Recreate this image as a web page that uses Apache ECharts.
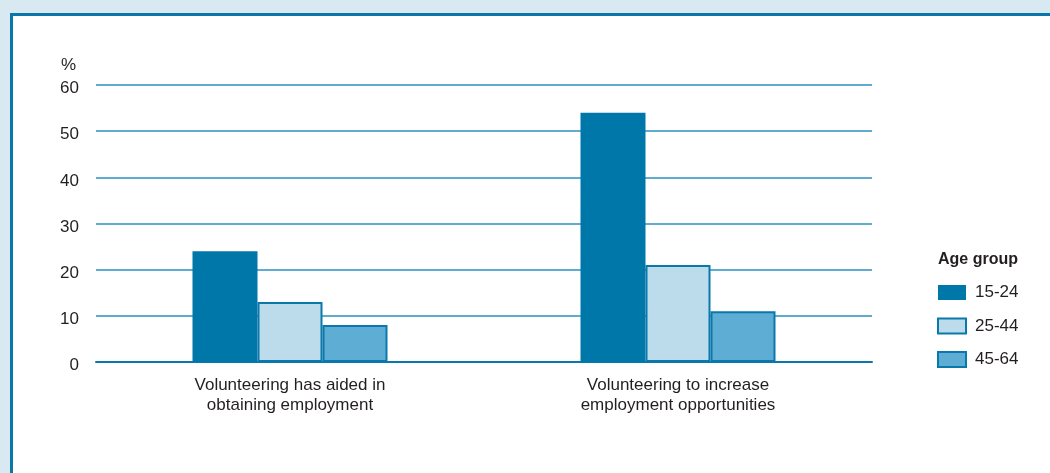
<!DOCTYPE html>
<html>
<head>
<meta charset="utf-8">
<script src="https://cdn.jsdelivr.net/npm/echarts@6/dist/echarts.min.js"></script>
<style>
html,body{margin:0;padding:0;background:#d9e9f1;}
#chart{width:1050px;height:473px;}
</style>
</head>
<body>
<div id="chart"></div>
<script>
const categories = ["Volunteering has aided in\nobtaining employment", "Volunteering to increase\nemployment opportunities"];
const seriesNames = ["15-24", "25-44", "45-64"];
const values1524 = [24, 54];
const values2544 = [13, 21];
const values4564 = [8, 11];
const yTicks = [0, 10, 20, 30, 40, 50, 60];

const FONT = "'Liberation Sans Narrow', 'Arial Narrow', 'Liberation Sans', sans-serif";
const TXT = '#231f20';
const colors = ['#0077a9', '#bcdbeb', '#5eadd4'];
const edge = '#0a78ab';

const chart = echarts.init(document.getElementById('chart'), null, {renderer: 'canvas'});
const allVals = [values1524, values2544, values4564];
chart.setOption({
  backgroundColor: '#d9e9f1',
  animation: false,
  graphic: [
    {type: 'rect', z: -10, silent: true,
     shape: {x: 11.5, y: 14.5, width: 1100, height: 500},
     style: {fill: '#ffffff', stroke: '#0a77aa', lineWidth: 3}},
    {type: 'text', left: 61, top: 57,
     style: {text: '%', font: '17px ' + FONT, fill: TXT}}
  ],
  title: {
    text: 'Age group', left: 938, top: 252, padding: 0,
    textStyle: {fontFamily: FONT, fontSize: 16, fontWeight: 'bold', color: TXT}
  },
  legend: {
    orient: 'vertical', left: 937, top: 284, padding: 0,
    itemWidth: 28, itemHeight: 15, itemGap: 16.5, icon: 'rect',
    data: seriesNames,
    textStyle: {fontFamily: FONT, fontSize: 17, lineHeight: 15, color: TXT, padding: [0, 0, 0, 4]}
  },
  grid: {left: 96, right: 178, top: 85, bottom: 111},
  xAxis: {
    type: 'category', data: categories,
    axisLine: {lineStyle: {color: edge, width: 2}},
    axisTick: {show: false},
    axisLabel: {fontFamily: FONT, fontSize: 17, lineHeight: 20, color: TXT, margin: 13}
  },
  yAxis: {
    type: 'value', min: 0, max: 60, interval: 10,
    axisLine: {show: false}, axisTick: {show: false},
    axisLabel: {fontFamily: FONT, fontSize: 17, color: TXT, margin: 17,
      verticalAlign: 'top', lineHeight: 7,
      formatter: v => yTicks.includes(v) ? String(v) : ''},
    splitLine: {lineStyle: {color: '#2a90c2', width: 1.5}}
  },
  series: seriesNames.map((name, i) => ({
    name, type: 'bar', data: allVals[i],
    barWidth: 65, barGap: '0%',
    itemStyle: {color: colors[i], borderColor: i === 0 ? colors[0] : edge, borderWidth: i === 0 ? 0 : 2}
  }))
});
</script>
</body>
</html>
